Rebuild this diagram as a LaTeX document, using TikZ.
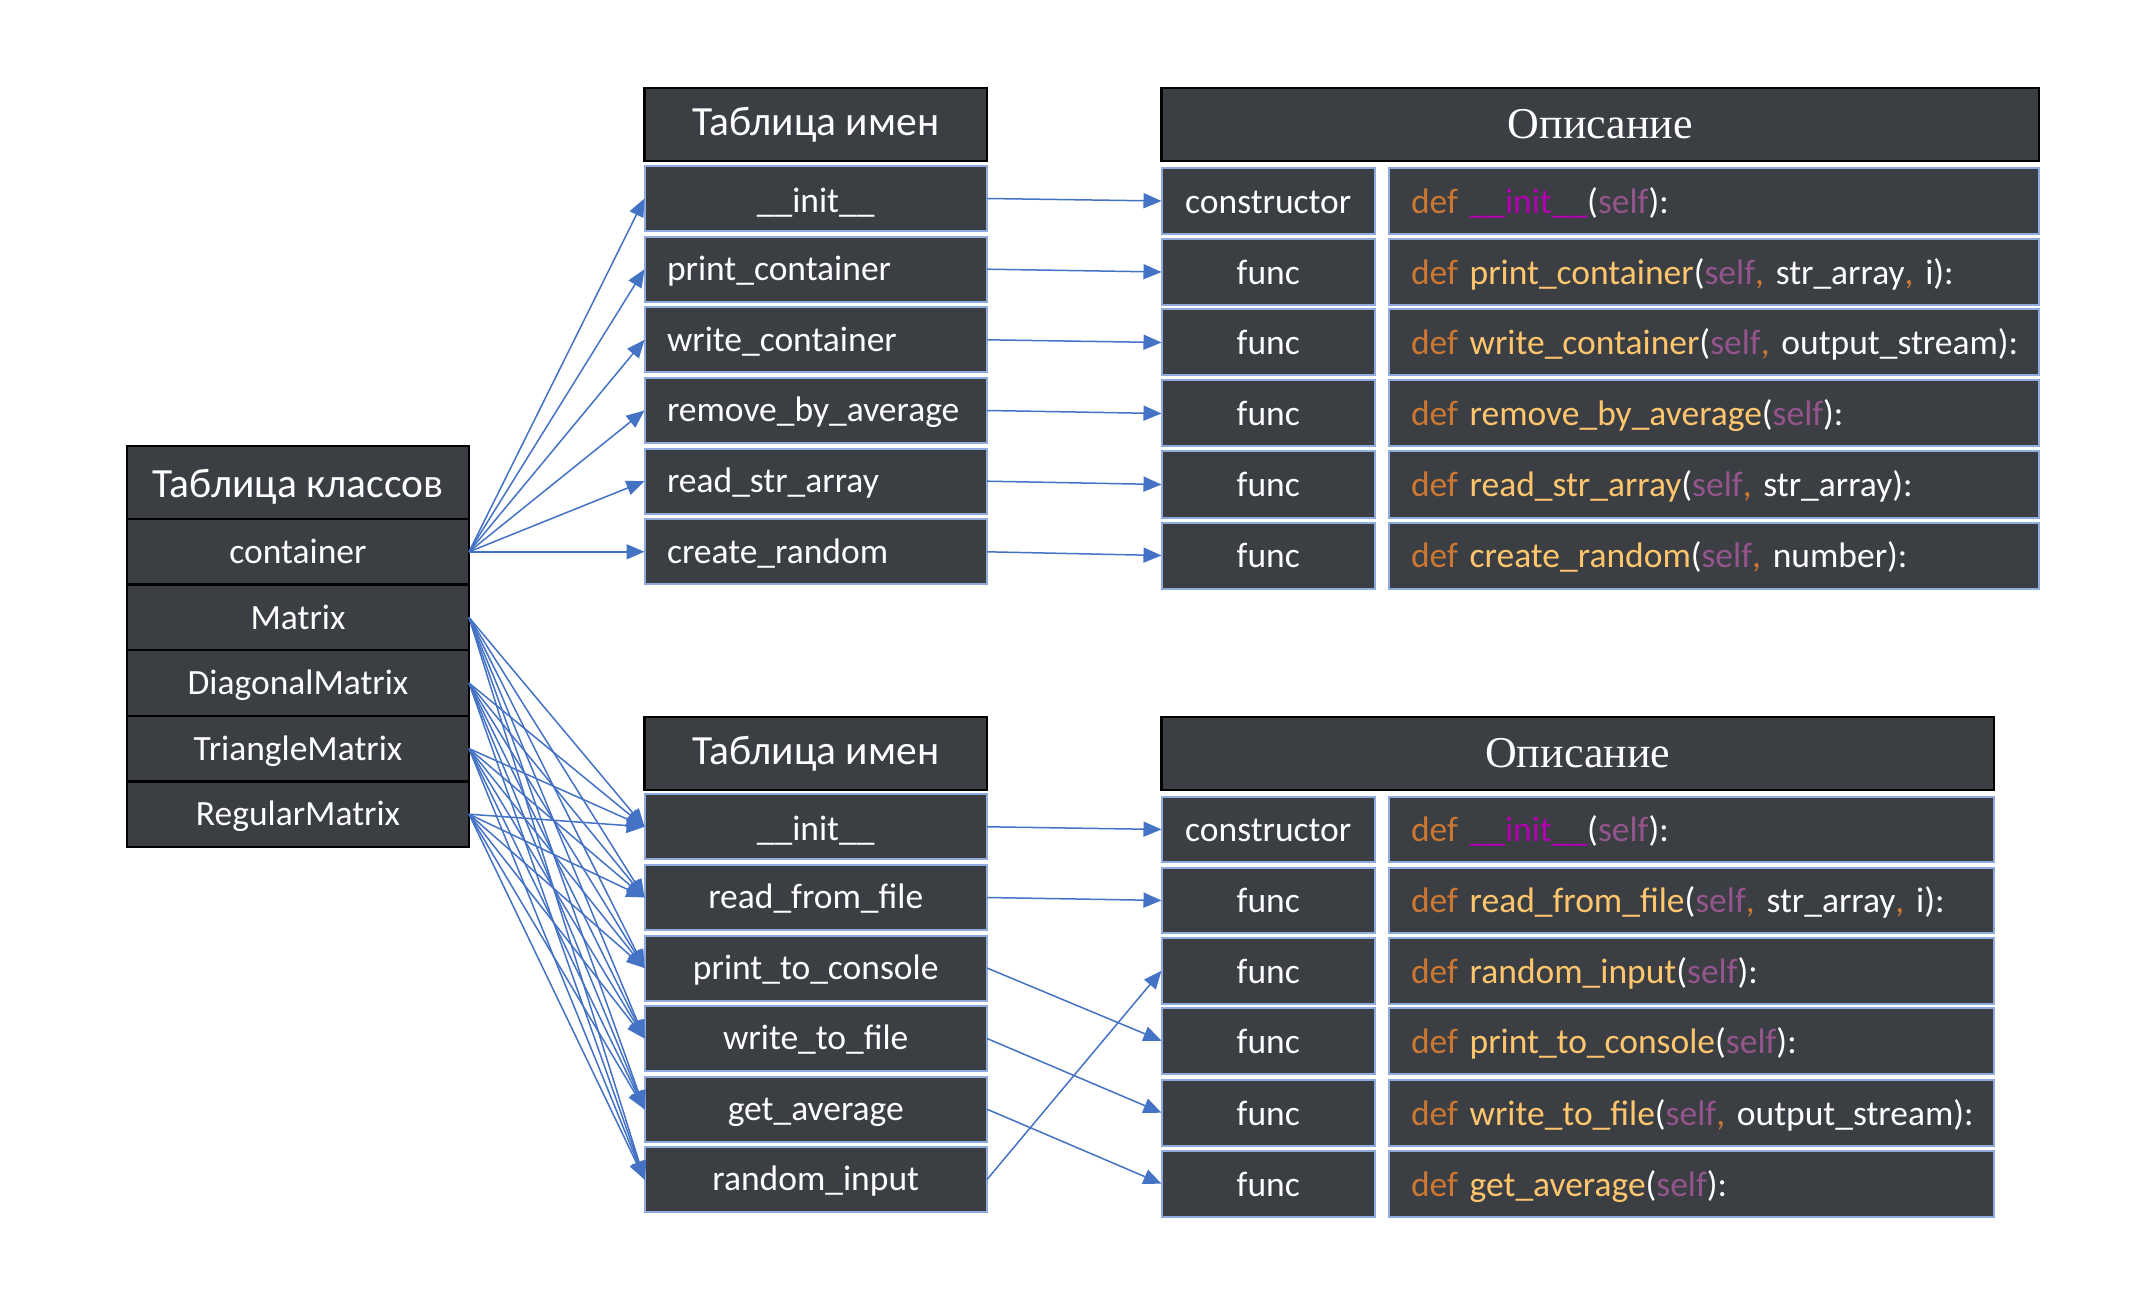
\documentclass[tikz,border=0pt]{standalone}
\usepackage{fontspec}
\setmainfont{Carlito}
\newfontfamily\hdrserif{Liberation Serif}
\usetikzlibrary{arrows.meta}
\frenchspacing
\definecolor{bg}{RGB}{59,62,66}
\definecolor{rowbd}{RGB}{143,170,220}
\definecolor{arr}{RGB}{68,114,196}
\definecolor{kwc}{RGB}{204,120,50}
\definecolor{fnc}{RGB}{255,198,109}
\definecolor{magic}{RGB}{178,0,178}
\definecolor{slfc}{RGB}{148,85,141}
\newcommand\ckw[1]{\textcolor{kwc}{#1}}
\newcommand\cfn[1]{\textcolor{fnc}{#1}}
\newcommand\cslf[1]{\textcolor{slfc}{#1}}
\newcommand\cmag[1]{\textcolor{magic}{#1}}
\begin{document}
\begin{tikzpicture}[x=0.5pt,y=-0.5pt,
  box/.style={fill=bg, text=white, inner sep=0pt, outer sep=0pt, anchor=north west},
  hdr/.style={box, draw=black, line width=1.2pt, font=\fontsize{20.75pt}{24pt}\selectfont, text height=15.2pt, text depth=4pt, minimum height=36.5pt},
  rowb/.style={box, draw=rowbd, line width=1pt, font=\fontsize{17.75pt}{20pt}\selectfont, text height=15.3pt, text depth=4pt},
  clsrow/.style={box, draw=black, line width=1.2pt, font=\fontsize{17.75pt}{20pt}\selectfont, text height=15.6pt, text depth=4pt, minimum width=171pt, minimum height=32.8pt},
  namerow/.style={rowb, minimum width=171.25pt, minimum height=32.5pt},
  nameleft/.style={namerow, inner xsep=11.25pt, text width=148.75pt, align=left},
  initrow/.style={namerow, text height=18pt},
  fcol/.style={rowb, minimum width=106.75pt, text height=16.4pt},
  codecol/.style={rowb, inner xsep=11pt, align=left, text height=16.4pt},
  deschdr/.style={hdr, font=\hdrserif\fontsize{22pt}{26pt}\selectfont, text height=17.8pt},
  conn/.style={draw=arr, line width=0.75pt, -{Triangle[length=9pt,width=7.5pt]}}
]
\useasboundingbox (0,0) rectangle (2142,1294);
\fill[white] (0,0) rectangle (2142,1294);

% class table
\node[hdr, minimum width=171pt, text height=18.5pt] (c0) at (127,446) {Таблица классов};
\node[clsrow] (c1) at (127,519) {container};
\node[clsrow] (c2) at (127,584.6) {Matrix};
\node[clsrow] (c3) at (127,650.2) {DiagonalMatrix};
\node[clsrow] (c4) at (127,715.8) {TriangleMatrix};
\node[clsrow] (c5) at (127,781.4) {RegularMatrix};

% top name table
\node[hdr, minimum width=171.25pt] (a0) at (644.5,88) {Таблица имен};
\node[initrow] (a1) at (644.5,166) {\_\_init\_\_};
\node[nameleft] (a2) at (644.5,236.7) {print\_container};
\node[nameleft] (a3) at (644.5,307.3) {write\_container};
\node[nameleft] (a4) at (644.5,378) {remove\_by\_average};
\node[nameleft] (a5) at (644.5,448.7) {read\_str\_array};
\node[nameleft] (a6) at (644.5,519.3) {create\_random};

% top description
\node[deschdr, minimum width=438.75pt] (ad0) at (1161.5,88) {Описание};
\tikzset{tl/.style={fcol, minimum height=33pt}, tr/.style={codecol, minimum height=33pt, text width=303pt}}
\node[tl] (al1) at (1161.5,168) {constructor};
\node[tl] (al2) at (1161.5,239) {func};
\node[tl] (al3) at (1161.5,309.5) {func};
\node[tl] (al4) at (1161.5,380.5) {func};
\node[tl] (al5) at (1161.5,451.5) {func};
\node[tl] (al6) at (1161.5,522.5) {func};
\node[tr] (ar1) at (1389,168) {\mbox{\ckw{def} \cmag{\_\_init\_\_}(\cslf{self}):}};
\node[tr] (ar2) at (1389,239) {\mbox{\ckw{def} \cfn{print\_container}(\cslf{self}\ckw{,} str\_array\ckw{,} i):}};
\node[tr] (ar3) at (1389,309.5) {\mbox{\ckw{def} \cfn{write\_container}(\cslf{self}\ckw{,} output\_stream):}};
\node[tr] (ar4) at (1389,380.5) {\mbox{\ckw{def} \cfn{remove\_by\_average}(\cslf{self}):}};
\node[tr] (ar5) at (1389,451.5) {\mbox{\ckw{def} \cfn{read\_str\_array}(\cslf{self}\ckw{,} str\_array):}};
\node[tr] (ar6) at (1389,522.5) {\mbox{\ckw{def} \cfn{create\_random}(\cslf{self}\ckw{,} number):}};

% bottom name table
\node[hdr, minimum width=171.25pt] (b0) at (644.5,716.7) {Таблица имен};
\node[initrow] (b1) at (644.5,794.3) {\_\_init\_\_};
\node[namerow] (b2) at (644.5,865) {read\_from\_file};
\node[namerow] (b3) at (644.5,935.5) {print\_to\_console};
\node[namerow] (b4) at (644.5,1006) {write\_to\_file};
\node[namerow] (b5) at (644.5,1076.7) {get\_average};
\node[namerow] (b6) at (644.5,1147) {random\_input};

% bottom description
\node[deschdr, minimum width=416.25pt] (bd0) at (1161.5,716.7) {Описание};
\tikzset{bl/.style={fcol, minimum height=32.75pt}, br/.style={codecol, minimum height=32.75pt, text width=280.5pt}}
\node[bl] (bl1) at (1161.5,796.7) {constructor};
\node[bl] (bl2) at (1161.5,867.7) {func};
\node[bl] (bl3) at (1161.5,938) {func};
\node[bl] (bl4) at (1161.5,1008) {func};
\node[bl] (bl5) at (1161.5,1080) {func};
\node[bl] (bl6) at (1161.5,1151) {func};
\node[br] (br1) at (1389,796.7) {\mbox{\ckw{def} \cmag{\_\_init\_\_}(\cslf{self}):}};
\node[br] (br2) at (1389,867.7) {\mbox{\ckw{def} \cfn{read\_from\_file}(\cslf{self}\ckw{,} str\_array\ckw{,} i):}};
\node[br] (br3) at (1389,938) {\mbox{\ckw{def} \cfn{random\_input}(\cslf{self}):}};
\node[br] (br4) at (1389,1008) {\mbox{\ckw{def} \cfn{print\_to\_console}(\cslf{self}):}};
\node[br] (br5) at (1389,1080) {\mbox{\ckw{def} \cfn{write\_to\_file}(\cslf{self}\ckw{,} output\_stream):}};
\node[br] (br6) at (1389,1151) {\mbox{\ckw{def} \cfn{get\_average}(\cslf{self}):}};

% connectors
\foreach \i in {1,...,6} {
  \draw[conn] (c1.east) -- (a\i.west);
  \draw[conn] (a\i.east) -- (al\i.west);
}
\foreach \c in {2,...,5} {
  \foreach \i in {1,...,6} {
    \draw[conn] (c\c.east) -- (b\i.west);
  }
}
\draw[conn] (b1.east) -- (bl1.west);
\draw[conn] (b2.east) -- (bl2.west);
\draw[conn] (b3.east) -- (bl4.west);
\draw[conn] (b4.east) -- (bl5.west);
\draw[conn] (b5.east) -- (bl6.west);
\draw[conn] (b6.east) -- (bl3.west);
\end{tikzpicture}
\end{document}
